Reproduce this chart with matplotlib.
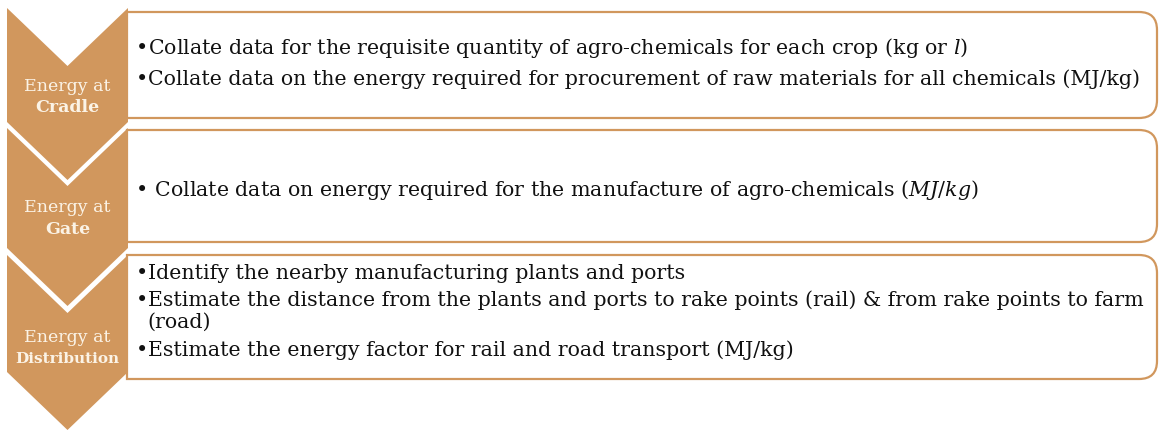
import matplotlib
matplotlib.use("Agg")
import matplotlib.pyplot as plt
from matplotlib.path import Path
from matplotlib.patches import PathPatch, Polygon

plt.rc("font", family="DejaVu Serif")
plt.rc("mathtext", fontset="custom", rm="DejaVu Serif", it="DejaVu Serif:italic")

# stages (chevron labels)
stage_top = ["Energy at", "Energy at", "Energy at"]
stage_name = ["Cradle", "Gate", "Distribution"]

# bullet text for each stage ("\u2022" marks a bullet line)
bullets = [
    ["\u2022Collate data for the requisite quantity of agro-chemicals for each crop (kg or $\\mathit{l}$)",
     "\u2022Collate data on the energy required for procurement of raw materials for all chemicals (MJ/kg)"],
    ["\u2022 Collate data on energy required for the manufacture of agro-chemicals ($\\mathit{MJ/kg}$)"],
    ["\u2022Identify the nearby manufacturing plants and ports",
     "\u2022Estimate the distance from the plants and ports to rake points (rail) & from rake points to farm",
     "(road)",
     "\u2022Estimate the energy factor for rail and road transport (MJ/kg)"],
]

# layout in pixels (y down)
chev_y = [(8, 122), (128, 248), (255, 372)]
box_y = [(12, 118), (130, 242), (255, 379)]
text_base = [[54, 85], [196], [279, 306, 328, 356]]
label_base = [(91, 112), (212, 234), (342, 363)]
name_size = [12.5, 12.5, 11.0]

orange = "#D1975D"
label_col = "#FBF3E6"

fig = plt.figure(figsize=(11.6, 4.3), dpi=100)
ax = fig.add_axes([0, 0, 1, 1])
ax.set_xlim(0, 1160)
ax.set_ylim(430, 0)
ax.axis("off")

x0, x1, xc, d = 7, 128, 67.5, 58
bx0, bx1, r = 127, 1157, 18
fs = 14.8

for i in range(3):
    # box with rounded right side
    t, b = box_y[i]
    verts = [(bx0, t), (bx1 - r, t), (bx1, t), (bx1, t + r), (bx1, b - r),
             (bx1, b), (bx1 - r, b), (bx0, b), (bx0, t)]
    codes = [Path.MOVETO, Path.LINETO, Path.CURVE3, Path.CURVE3, Path.LINETO,
             Path.CURVE3, Path.CURVE3, Path.LINETO, Path.CLOSEPOLY]
    ax.add_patch(PathPatch(Path(verts, codes), facecolor="white",
                           edgecolor=orange, lw=1.6, zorder=1))

    # chevron
    ct, cb = chev_y[i]
    ax.add_patch(Polygon([(x0, ct), (xc, ct + d), (x1, ct), (x1, cb),
                          (xc, cb + d), (x0, cb)], closed=True,
                         facecolor=orange, edgecolor="none", zorder=2))
    ax.text(xc, label_base[i][0], stage_top[i], color=label_col, fontsize=12.5,
            ha="center", va="baseline", zorder=3)
    ax.text(xc, label_base[i][1], stage_name[i], color=label_col,
            fontsize=name_size[i], fontweight="bold", ha="center",
            va="baseline", zorder=3)

    for s, yb in zip(bullets[i], text_base[i]):
        if s.startswith("\u2022"):
            ax.text(136, yb, "\u2022", fontsize=fs, color="#111111",
                    ha="left", va="baseline", zorder=3)
            s = s[1:]
        ax.text(147.5, yb, s, fontsize=fs, color="#111111", ha="left",
                va="baseline", zorder=3)

fig.savefig("out.png", dpi=100)
